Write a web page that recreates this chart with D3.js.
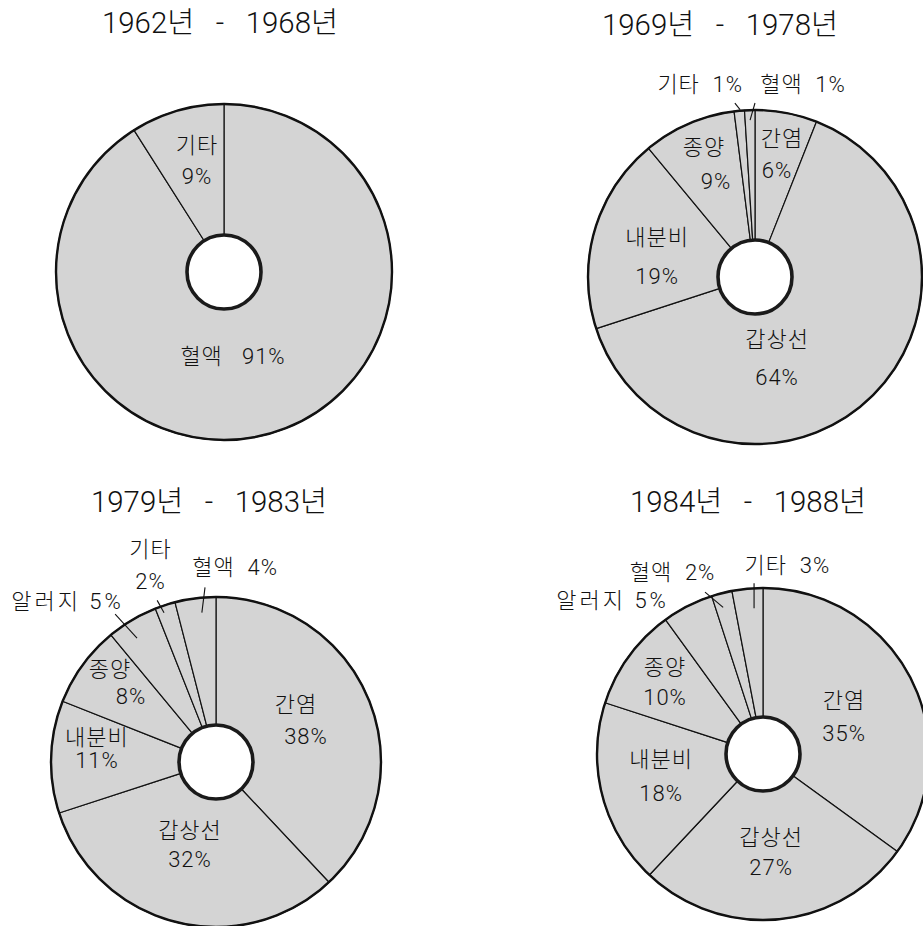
<!DOCTYPE html>
<html>
<head>
<meta charset="utf-8">
<script src="https://cdn.jsdelivr.net/npm/d3@7"></script>
<style>
  html, body { margin: 0; padding: 0; background: #fff; }
  svg { display: block; }
  text { font-family: "Roboto", "Noto Sans CJK KR", sans-serif; fill: #111; }
</style>
</head>
<body>
<svg id="chart" width="923" height="926"></svg>
<script>
// ---------------- DATA ----------------
const titles = ["1962년 - 1968년", "1969년 - 1978년", "1979년 - 1983년", "1984년 - 1988년"];

const categories1 = ["혈액", "기타"];
const values1     = [91, 9];

const categories2 = ["간염", "갑상선", "내분비", "종양", "기타", "혈액"];
const values2     = [6, 64, 19, 9, 1, 1];

const categories3 = ["간염", "갑상선", "내분비", "종양", "알러지", "기타", "혈액"];
const values3     = [38, 32, 11, 8, 5, 2, 4];

const categories4 = ["간염", "갑상선", "내분비", "종양", "알러지", "혈액", "기타"];
const values4     = [35, 27, 18, 10, 5, 2, 3];

// ---------------- LAYOUT (positions / styles, kept apart from the data) ----------------
const panels = [
  { cx: 224, cy: 272, r: 168, titleX: 220, titleY: 33 },
  { cx: 755, cy: 277, r: 167, titleX: 720, titleY: 35 },
  { cx: 216, cy: 762, r: 165, titleX: 209, titleY: 512 },
  { cx: 763, cy: 754, r: 166, titleX: 748, titleY: 512 }
];
const holeR = 37;

// label placement per slice (polar: angle in degrees clockwise from 12 o'clock, distance px)
const labelLayout = [
  [ {a:173.9, d:84.5, inline:true, sep:"   "},
    {a:346.4, d:115, gap:31} ],
  [ {a:11.5, d:125.5, gap:32, dx:[2,-3]},
    {a:164.8, d:84, gap:38.5},
    {a:281.8, d:100, gap:39},
    {a:338.3, d:121.6, gap:34.5, dx:[-6,6]},
    {a:344.1, d:200, inline:true, sep:"  ", leader:[353.4,175,354.9,168]},
    {a:14, d:198.4, inline:true, sep:"  ", leader:[0,174,358.2,157]} ],
  [ {a:63.7, d:94.8, gap:32, dx:[-5,5]},
    {a:197.5, d:86.5, gap:29},
    {a:276.5, d:119.8, gap:23},
    {a:309.6, d:124.6, gap:27, dx:[-10,11]},
    {a:317.3, d:219, inline:true, sep:" ", wide:true, leader:[325.7,179,327.5,147]},
    {a:341.6, d:207.6, gap:32, leader:[340,172,340.8,158]},
    {a:5.6, d:195.4, inline:true, sep:"  ", leader:[356.4,175,354.6,150]} ],
  [ {a:65.2, d:89.3, gap:33},
    {a:175.3, d:98.3, gap:30.5},
    {a:257.8, d:104.3, gap:33.5},
    {a:306.3, d:121.6, gap:30.5},
    {a:315.5, d:214.6, inline:true, sep:" ", wide:true},
    {a:333.5, d:202.8, inline:true, sep:"  ", leader:[340.3,172,344.8,152]},
    {a:7.4, d:189.6, inline:true, sep:"  ", leader:[357,171,356.5,146]} ]
];

const datasets = [
  { cats: categories1, vals: values1 },
  { cats: categories2, vals: values2 },
  { cats: categories3, vals: values3 },
  { cats: categories4, vals: values4 }
];

const svg = d3.select("#chart");
const toRad = d => d * Math.PI / 180;
const polar = (a, d) => [d * Math.sin(toRad(a)), -d * Math.cos(toRad(a))];

datasets.forEach((ds, i) => {
  const P = panels[i];
  const g = svg.append("g").attr("transform", `translate(${P.cx},${P.cy})`);

  const pie = d3.pie().sort(null).value(d => d.v).startAngle(0).endAngle(2 * Math.PI);
  const arcs = pie(ds.cats.map((c, k) => ({ c, v: ds.vals[k] })));
  const arc = d3.arc().innerRadius(holeR).outerRadius(P.r);

  g.selectAll("path.slice").data(arcs).join("path")
    .attr("class", "slice")
    .attr("d", arc)
    .attr("fill", "#d4d4d4")
    .attr("stroke", "#111")
    .attr("stroke-width", 1.2)
    .attr("stroke-linejoin", "round");

  // outer rim
  g.append("circle").attr("r", P.r).attr("fill", "none")
    .attr("stroke", "#111").attr("stroke-width", 2.4);
  // center hole
  g.append("circle").attr("r", holeR).attr("fill", "#fff")
    .attr("stroke", "#1a1a1a").attr("stroke-width", 3.6);

  // title
  svg.append("text")
    .attr("x", P.titleX).attr("y", P.titleY)
    .attr("text-anchor", "middle")
    .attr("font-size", 29)
    .attr("font-weight", 300)
    .attr("textLength", 236)
    .attr("lengthAdjust", "spacingAndGlyphs")
    .style("white-space", "pre")
    .text(titles[i].replace(" - ", "   -   "));

  // labels
  arcs.forEach((a, k) => {
    const L = labelLayout[i][k];
    const [x, y] = polar(L.a, L.d);
    const name = a.data.c, pct = a.data.v + "%";
    const t = g.append("text")
      .attr("font-size", 22)
      .attr("font-weight", 300)
      .attr("text-anchor", "middle")
      .attr("dominant-baseline", "central")
      .style("white-space", "pre")
      .attr("letter-spacing", L.wide ? 3 : 1);
    if (L.inline) {
      t.attr("x", x).attr("y", y).text(name + L.sep + pct);
    } else {
      const dx = L.dx || [0, 0];
      t.append("tspan").attr("x", x + dx[0]).attr("y", y - L.gap / 2).text(name);
      t.append("tspan").attr("x", x + dx[1]).attr("y", y + L.gap / 2).text(pct);
    }
    if (L.leader) {
      const [a0, r0, a1, r1] = L.leader;
      const p0 = polar(a0, r0), p1 = polar(a1, r1);
      g.append("line")
        .attr("x1", p0[0]).attr("y1", p0[1])
        .attr("x2", p1[0]).attr("y2", p1[1])
        .attr("stroke", "#111").attr("stroke-width", 1.1);
    }
  });
});
</script>
</body>
</html>
